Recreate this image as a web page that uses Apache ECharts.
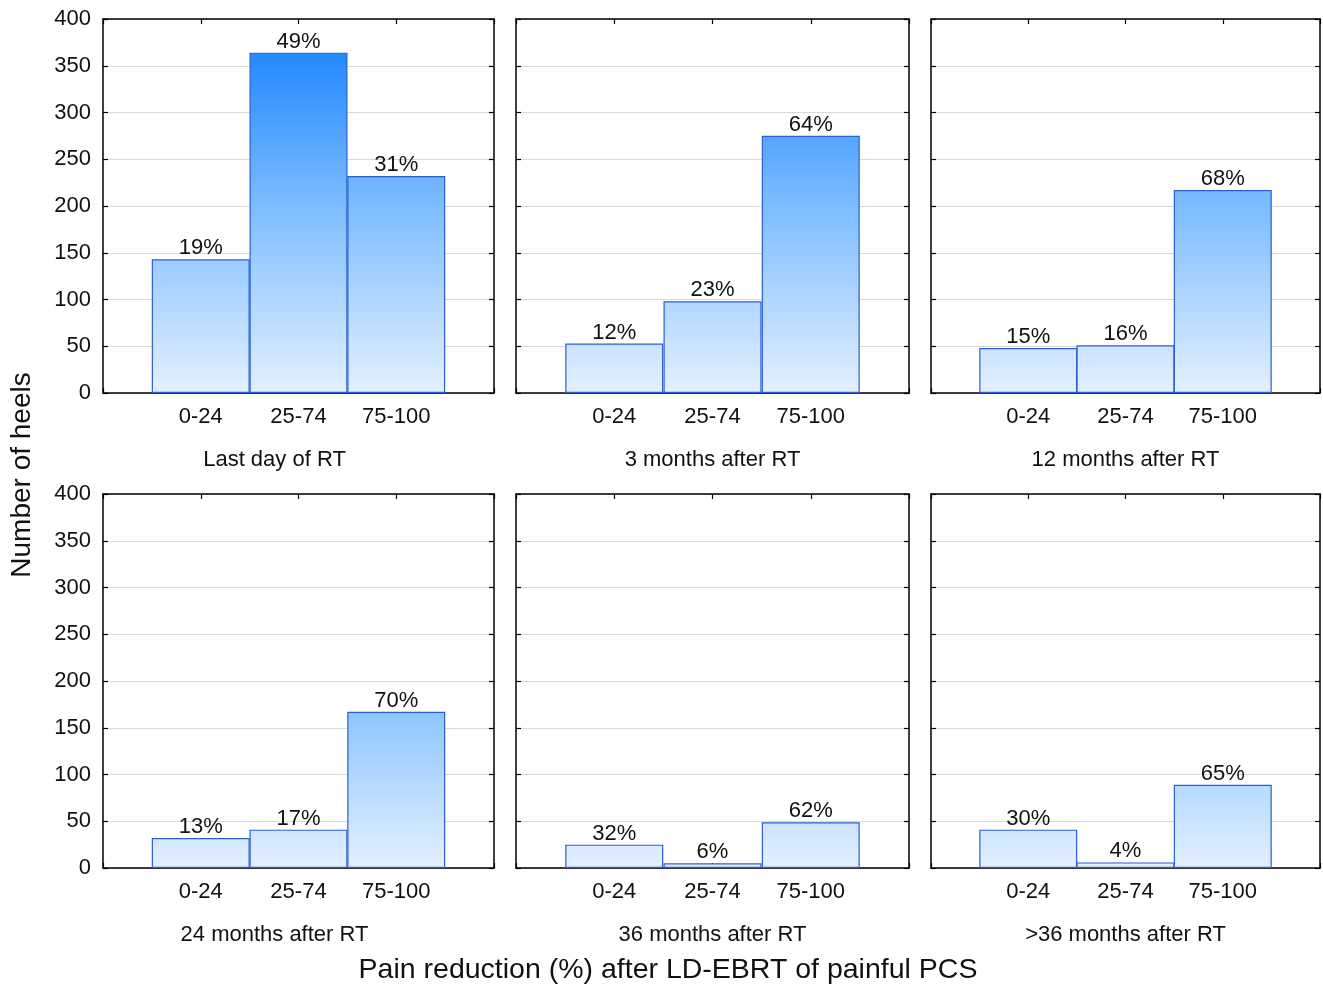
<!DOCTYPE html>
<html>
<head>
<meta charset="utf-8">
<script src="https://cdn.jsdelivr.net/npm/echarts@6/dist/echarts.min.js"></script>
<style>
  html, body { margin: 0; padding: 0; background: #fff; }
  #chart { width: 1323px; height: 984px; }
</style>
</head>
<body>
<div id="chart"></div>
<script>
// Pain reduction classes (x categories)
const categories = ['0-24', '25-74', '75-100'];

// Follow-up time points, one panel each
const panelTitles = [
  'Last day of RT', '3 months after RT', '12 months after RT',
  '24 months after RT', '36 months after RT', '>36 months after RT'
];

// Number of heels per class for each time point
const lastDay   = [143, 364, 232];
const months3   = [53, 98, 275];
const months12  = [48, 51, 217];
const months24  = [32, 41, 167];
const months36  = [25, 5, 49];
const monthsGt36 = [41, 6, 89];

// Percent labels shown above the bars
const pctLastDay   = ['19%', '49%', '31%'];
const pct3   = ['12%', '23%', '64%'];
const pct12  = ['15%', '16%', '68%'];
const pct24  = ['13%', '17%', '70%'];
const pct36  = ['32%', '6%', '62%'];
const pctGt36 = ['30%', '4%', '65%'];

const yTicks = [0, 50, 100, 150, 200, 250, 300, 350, 400];

const seriesValues = [lastDay, months3, months12, months24, months36, monthsGt36];
const seriesPcts = [pctLastDay, pct3, pct12, pct24, pct36, pctGt36];

// Panel geometry
const colLeft = [103, 516, 931];
const colWidth = [391, 393, 390];
const rowTop = [19, 494];
const rowHeight = 374;
const BAR_W = 98;

const FONT = 'Liberation Sans, Arial, sans-serif';

const grids = [], xAxes = [], yAxes = [], series = [];

for (let p = 0; p < 6; p++) {
  const r = Math.floor(p / 3), c = p % 3;
  const left = colLeft[c], top = rowTop[r], w = colWidth[c];
  grids.push({ left: left, top: top, width: w, height: rowHeight });

  // bottom x axis with class labels and panel title
  xAxes.push({
    gridIndex: p, type: 'value', min: 0, max: 4, interval: 1, position: 'bottom',
    axisLine: { show: true, onZero: false, lineStyle: { color: '#000', width: 1.5 } },
    axisTick: { show: true, inside: true, length: 5, lineStyle: { color: '#000', width: 1.2 } },
    splitLine: { show: false },
    axisLabel: {
      color: '#111', fontFamily: FONT, fontSize: 22, margin: 13,
      formatter: v => (v >= 1 && v <= 3) ? categories[v - 1] : ''
    },
    name: panelTitles[p], nameLocation: 'middle', nameGap: 56,
    nameTextStyle: {
      color: '#111', fontFamily: FONT, fontSize: 22,
      padding: c === 0 ? [0, 48, 0, 0] : 0
    }
  });
  // top frame axis
  xAxes.push({
    gridIndex: p, type: 'value', min: 0, max: 4, interval: 1, position: 'top',
    axisLine: { show: true, onZero: false, lineStyle: { color: '#000', width: 1.5 } },
    axisTick: { show: true, inside: true, length: 5, lineStyle: { color: '#000', width: 1.2 } },
    splitLine: { show: false }, axisLabel: { show: false }
  });
  // left y axis
  yAxes.push({
    gridIndex: p, type: 'value', min: 0, max: 400, interval: 50, position: 'left',
    axisLine: { show: true, onZero: false, lineStyle: { color: '#000', width: 1.5 } },
    axisTick: { show: true, inside: true, length: 5, lineStyle: { color: '#000', width: 1.2 } },
    splitLine: { show: true, lineStyle: { color: '#d9d9d9', width: 1.2 } },
    axisLabel: {
      show: c === 0, color: '#111', fontFamily: FONT, fontSize: 22, margin: 12,
      formatter: v => yTicks.indexOf(v) >= 0 ? String(v) : ''
    }
  });
  // right frame axis
  yAxes.push({
    gridIndex: p, type: 'value', min: 0, max: 400, interval: 50, position: 'right',
    axisLine: { show: true, onZero: false, lineStyle: { color: '#000', width: 1.5 } },
    axisTick: { show: true, inside: true, length: 5, lineStyle: { color: '#000', width: 1.2 } },
    splitLine: { show: false }, axisLabel: { show: false }
  });

  const vals = seriesValues[p], pcts = seriesPcts[p];
  series.push({
    type: 'bar',
    xAxisIndex: 2 * p, yAxisIndex: 2 * p,
    barWidth: BAR_W,
    data: vals.map((v, i) => [i + 1, v]),
    itemStyle: {
      color: new echarts.graphic.LinearGradient(0, top, 0, top + rowHeight, [
        { offset: 0, color: '#0f7dff' },
        { offset: 0.5, color: '#7dbdff' },
        { offset: 1, color: '#e4f0ff' }
      ], true),
      borderColor: '#2a5fd3', borderWidth: 1.2
    },
    label: {
      show: true, position: 'top', distance: 0,
      color: '#111', fontFamily: FONT, fontSize: 22,
      formatter: prm => pcts[prm.dataIndex]
    },
    silent: true,
    animation: false
  });
}

const chart = echarts.init(document.getElementById('chart'), null, { renderer: 'canvas' });
chart.setOption({
  backgroundColor: '#fff',
  animation: false,
  grid: grids,
  xAxis: xAxes,
  yAxis: yAxes,
  series: series,
  graphic: [
    {
      type: 'text', x: 668, y: 970,
      style: { text: 'Pain reduction (%) after LD-EBRT of painful PCS', fill: '#111',
               align: 'center', verticalAlign: 'middle',
               font: '28.5px Liberation Sans, Arial, sans-serif' }
    },
    {
      type: 'text', x: 8, y: 475, rotation: Math.PI / 2,
      style: { text: 'Number of heels', fill: '#111', align: 'center', verticalAlign: 'top',
               font: '28px Liberation Sans, Arial, sans-serif' }
    }
  ]
});
</script>
</body>
</html>
